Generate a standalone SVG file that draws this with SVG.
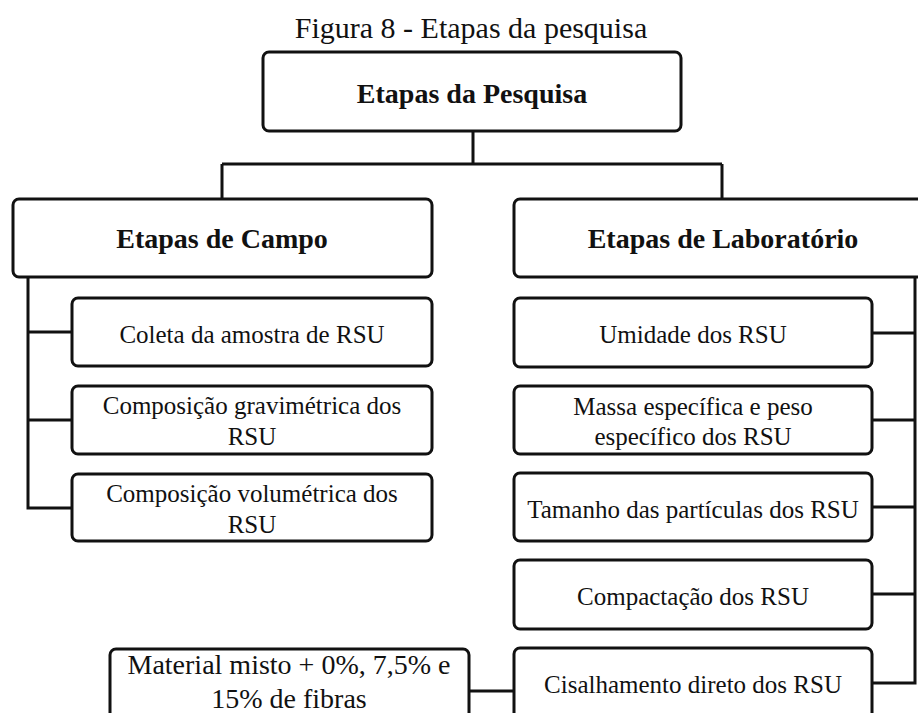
<svg xmlns="http://www.w3.org/2000/svg" width="918" height="713" viewBox="0 0 918 713">
<style>
.box{fill:#fff;stroke:#111;stroke-width:3}
.ln{fill:none;stroke:#111;stroke-width:3}
.t{font-family:"Liberation Serif","Times New Roman",serif;fill:#111;text-anchor:middle}
.r{font-size:25px}
.b{font-size:28px;font-weight:bold}
.m{font-size:28px}
</style>
<rect width="918" height="713" fill="#fff"/>
<text class="t" x="471" y="38" style="font-size:30px">Figura 8 - Etapas da pesquisa</text>
<g id="connectors">
<path class="ln" d="M473,131 V164 M222,164 H722 M222,164 V199 M722,164 V199"/>
<path class="ln" d="M28,277 V508 H72 M28,332 H72 M28,420 H72"/>
<path class="ln" d="M915,277 V683 H872 M872,333 H915 M872,420 H915 M872,507 H915 M872,594 H915"/>
<path class="ln" d="M469,691 H514"/>
</g>
<g id="n-pesquisa"><rect class="box" x="263" y="52" width="418" height="79" rx="6"/><text class="t b" x="472" y="103">Etapas da Pesquisa</text></g>
<g id="n-campo"><rect class="box" x="13" y="199" width="419" height="78" rx="6"/><text class="t b" x="222" y="248">Etapas de Campo</text></g>
<g id="n-lab"><rect class="box" x="514" y="199" width="420" height="78" rx="6"/><text class="t b" x="723" y="248">Etapas de Laboratório</text></g>
<g id="n-coleta"><rect class="box" x="72" y="298" width="360" height="68" rx="6"/><text class="t r" x="252" y="343">Coleta da amostra de RSU</text></g>
<g id="n-grav"><rect class="box" x="72" y="386" width="360" height="68" rx="6"/><text class="t r" x="252" y="414">Composição gravimétrica dos</text><text class="t r" x="252" y="445">RSU</text></g>
<g id="n-vol"><rect class="box" x="72" y="474" width="360" height="67" rx="6"/><text class="t r" x="252" y="502">Composição volumétrica dos</text><text class="t r" x="252" y="533">RSU</text></g>
<g id="n-umid"><rect class="box" x="514" y="298" width="358" height="69" rx="6"/><text class="t r" x="693" y="343">Umidade dos RSU</text></g>
<g id="n-massa"><rect class="box" x="514" y="386" width="358" height="68" rx="6"/><text class="t r" x="693" y="415">Massa específica e peso</text><text class="t r" x="693" y="445">específico dos RSU</text></g>
<g id="n-tam"><rect class="box" x="514" y="473" width="358" height="68" rx="6"/><text class="t r" x="693" y="518">Tamanho das partículas dos RSU</text></g>
<g id="n-comp"><rect class="box" x="514" y="560" width="358" height="69" rx="6"/><text class="t r" x="693" y="605">Compactação dos RSU</text></g>
<g id="n-cis"><rect class="box" x="514" y="648" width="358" height="72" rx="6"/><text class="t r" x="693" y="693">Cisalhamento direto dos RSU</text></g>
<g id="n-mat"><rect class="box" x="110" y="649" width="359" height="72" rx="6"/><text class="t m" x="289" y="674">Material misto + 0%, 7,5% e</text><text class="t m" x="289" y="708">15% de fibras</text></g>
</svg>
